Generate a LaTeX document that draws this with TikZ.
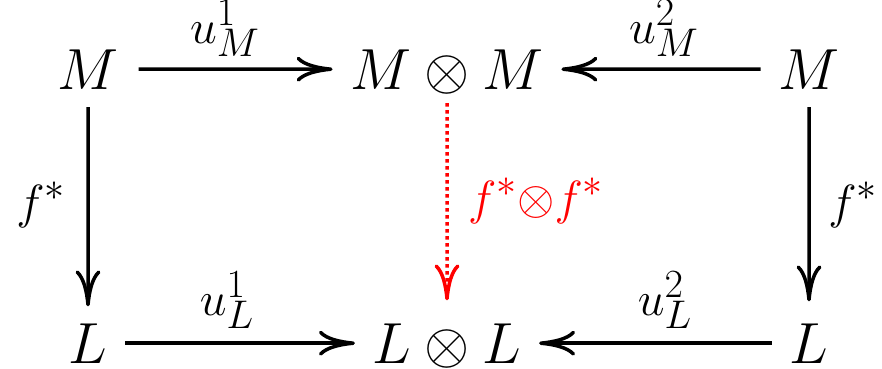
\documentclass[tikz,border=0pt]{standalone}
\usetikzlibrary{arrows.meta}
\begin{document}
\begin{tikzpicture}[x=1pt,y=-1pt,
  obj/.style={inner sep=0pt, outer sep=0pt, font=\Huge, scale=2.331, anchor=base, text depth=0pt},
  lab/.style={inner sep=0pt, outer sep=0pt, font=\Huge, scale=1.929, anchor=base},
  tipstyle/.style={-{Computer Modern Rightarrow[length=36pt,width=25pt]}},
  arr/.style={line width=3.5pt, tipstyle}]
\useasboundingbox (0,0) rectangle (882,368);
\node[obj] (m1) at (88,89) {$M$};
\node[obj] (mm) at (447,89) {$M\otimes M$};
\node[obj] (m2) at (809,89) {$M$};
\node[obj] (l1) at (88,363) {$L$};
\node[obj] (ll) at (447,363) {$L\otimes L$};
\node[obj] (l2) at (809,363) {$L$};
\node[lab] (a1) at (225,43) {$u^1_M$};
\node[lab] (a2) at (664,43) {$u^2_M$};
\node[lab] (b1) at (227,315) {$u^1_L$};
\node[lab] (b2) at (665,315) {$u^2_L$};
\node[lab] (fl) at (41,218) {$f^*$};
\node[lab] (fr) at (853,218) {$f^*$};
\node[lab,text=red] (fm) at (536,214) {$f^*{\otimes}f^*$};
\draw[arr,shorten <=20pt,shorten >=18pt] (m1) -- (mm);
\draw[arr,shorten <=18pt,shorten >=18pt] (m2) -- (mm);
\draw[arr,shorten <=18pt,shorten >=18pt] (l1) -- (ll);
\draw[arr,shorten <=18pt,shorten >=18pt] (l2) -- (ll);
\draw[arr,shorten <=18pt,shorten >=17pt] (m1) -- (l1);
\draw[arr,shorten <=18pt,shorten >=22pt] (m2) -- (l2);
\draw[arr,red,dash pattern=on 3.5pt off 3.5pt,shorten <=14pt,shorten >=23pt] (mm) -- (ll);
\end{tikzpicture}
\end{document}
